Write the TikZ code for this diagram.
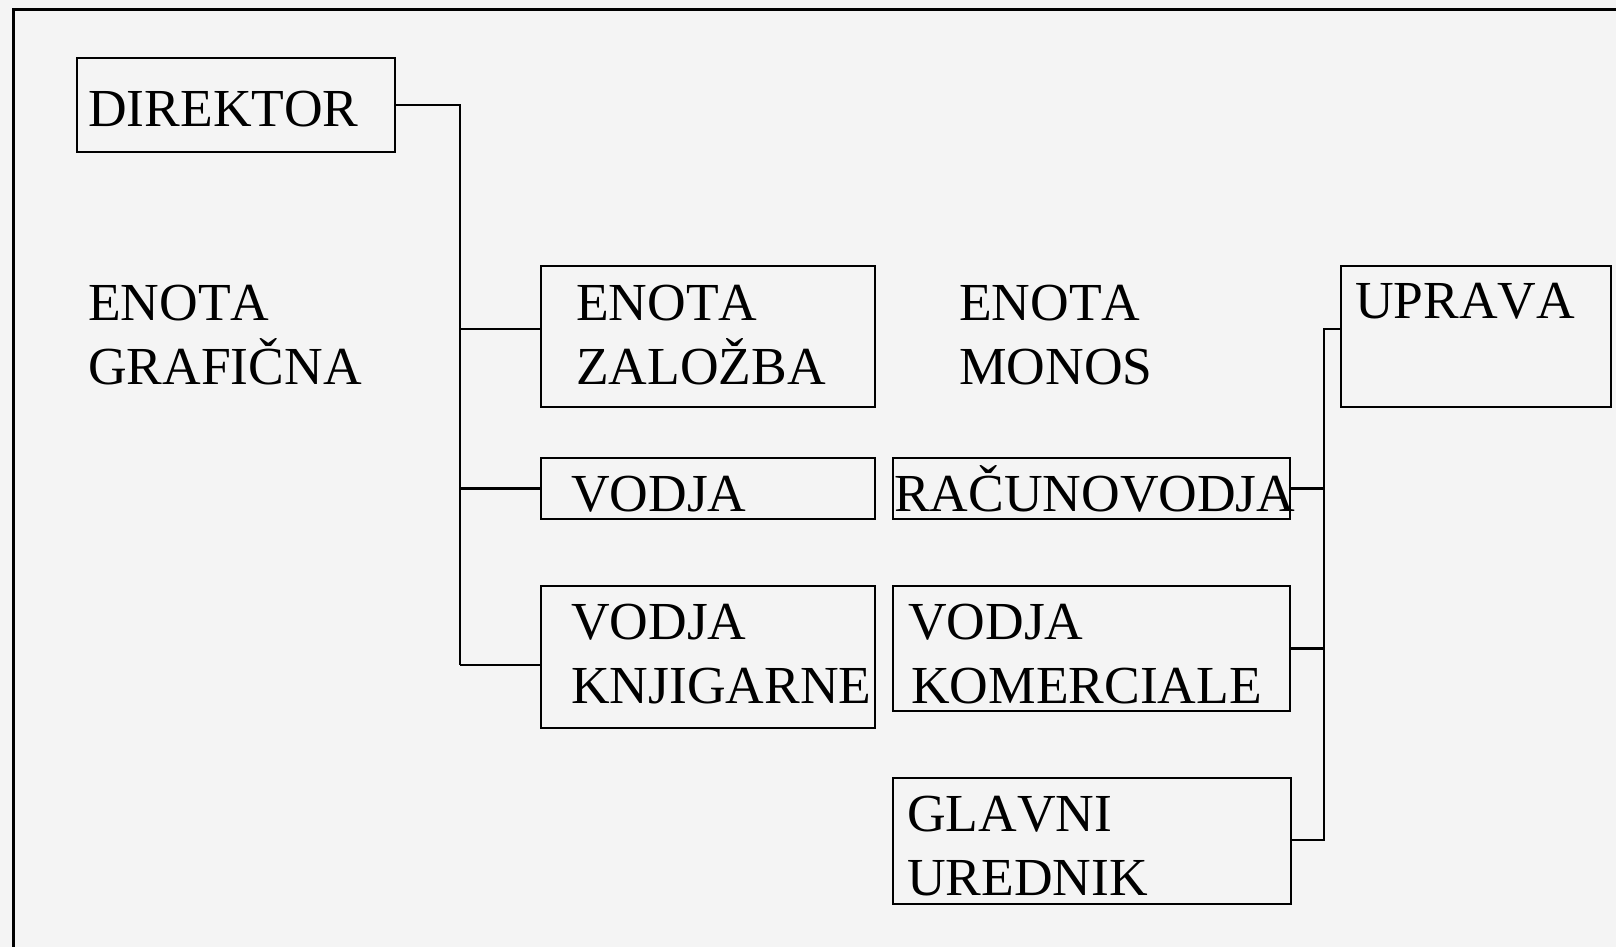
\documentclass[tikz,border=0pt]{standalone}
\usepackage{fontspec}
\setmainfont[Kerning=Off]{Liberation Serif}
\definecolor{bg}{HTML}{F4F4F4}
\begin{document}
\begin{tikzpicture}[x=1pt,y=-1pt,
  box/.style={draw=black,line width=2.5pt,rectangle,inner sep=0pt,outer sep=0pt},
  lbl/.style={anchor=base west,inner sep=0pt,font=\fontsize{53.5}{64}\selectfont},
  conn/.style={draw=black,line width=2.3pt}]
\useasboundingbox (0,0) rectangle (1616,947);
\clip (0,0) rectangle (1616,947);
\fill[bg] (0,0) rectangle (1616,947);
\draw[line width=3pt] (13,10) rectangle (1660,1000);
% boxes
\node[box,minimum width=318pt,minimum height=94pt] (dir) at (236,105) {};
\node[box,minimum width=334pt,minimum height=141pt] (zal) at (708,336.5) {};
\node[box,minimum width=334pt,minimum height=61pt] (vod) at (708,488.5) {};
\node[box,minimum width=334pt,minimum height=142pt] (knj) at (708,657) {};
\node[box,minimum width=397pt,minimum height=61pt] (rac) at (1091.5,488.5) {};
\node[box,minimum width=397pt,minimum height=125pt] (kom) at (1091.5,648.5) {};
\node[box,minimum width=398pt,minimum height=126pt] (gla) at (1092,841) {};
\node[box,minimum width=270pt,minimum height=141pt] (upr) at (1476,336.5) {};
% labels
\node[lbl] (tdir) at (88,127) {DIREKTOR};
\node[lbl] (tgr1) at (88,320) {ENOTA};
\node[lbl] (tgr2) at (88,384) {GRAFIČNA};
\node[lbl] (tzal1) at (576,320) {ENOTA};
\node[lbl] (tzal2) at (576,384) {ZALOŽBA};
\node[lbl] (tvod) at (571,511) {VODJA};
\node[lbl] (tknj1) at (571,639) {VODJA};
\node[lbl] (tknj2) at (571,703) {KNJIGARNE};
\node[lbl] (tmon1) at (959,320) {ENOTA};
\node[lbl] (tmon2) at (959,384) {MONOS};
\node[lbl] (trac) at (894,511) {RAČUNOVODJA};
\node[lbl] (tkom1) at (908,639) {VODJA};
\node[lbl] (tkom2) at (911,703) {KOMERCIALE};
\node[lbl] (tgla1) at (907,831) {GLAVNI};
\node[lbl] (tgla2) at (907,895) {UREDNIK};
\node[lbl] (tupr) at (1355,318) {UPRAVA};
% left bus
\coordinate (l0) at (460,105);
\coordinate (l1) at (460,329);
\coordinate (l3) at (460,665);
\draw[conn] (dir.east) -- (l0) -- (l3);
\draw[conn] (l1) -- (l1 -| zal.west);
\draw[conn] (vod.west) -- (vod.west -| l0);
\draw[conn] (l3) -- (l3 -| knj.west);
% right bus
\coordinate (r0) at (1324,329);
\coordinate (r3) at (1324,840);
\draw[conn] (upr.west |- r0) -- (r0) -- (r3) -- (r3 -| gla.east);
\draw[conn] (rac.east) -- (rac.east -| r0);
\draw[conn] (kom.east) -- (kom.east -| r0);
\end{tikzpicture}
\end{document}
